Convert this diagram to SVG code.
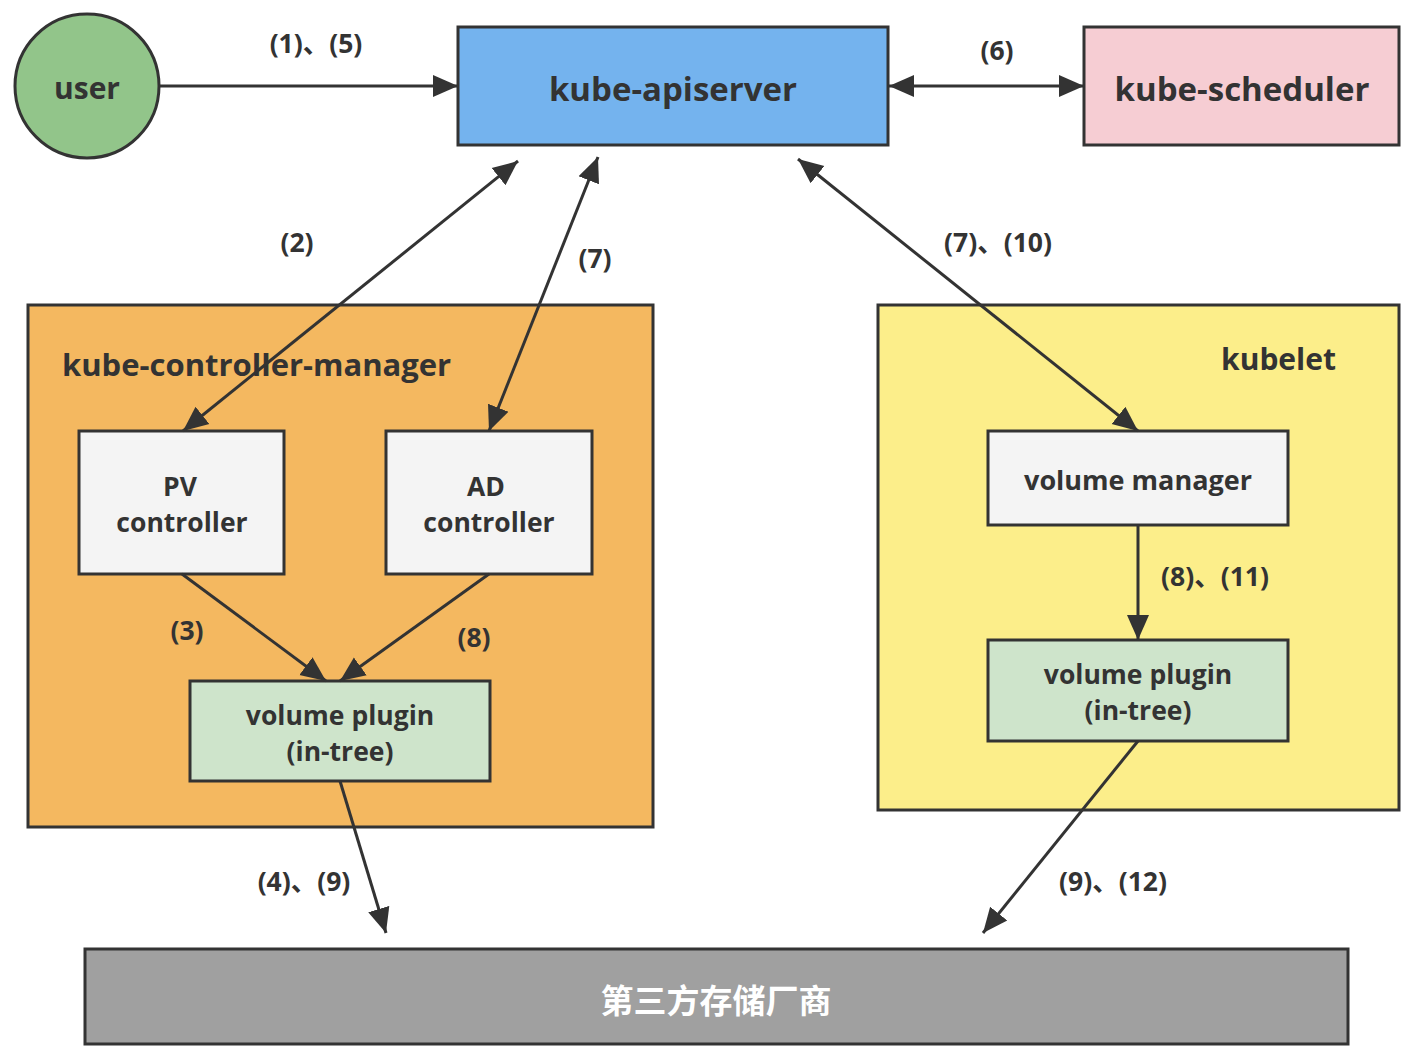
<svg xmlns="http://www.w3.org/2000/svg" width="1414" height="1062" viewBox="0 0 1414 1062">
<defs>
<marker id="ah" markerUnits="userSpaceOnUse" markerWidth="26" markerHeight="24" refX="25" refY="12" orient="auto-start-reverse" viewBox="0 0 26 24">
<path d="M0,1 L25,12 L0,23 Z" fill="#333"/>
</marker>
<style>
.box{stroke:#333;stroke-width:3}
.t{font-family:"Open Sans","Noto Sans CJK SC",sans-serif;font-weight:bold;fill:#333;text-anchor:middle}
.lbl{font-family:"Open Sans","Noto Sans CJK SC",sans-serif;font-weight:bold;fill:#333;font-size:26.5px;text-anchor:middle}
.c{stroke:#333;stroke-width:3;fill:none}
</style>
</defs>
<rect width="1414" height="1062" fill="#fff"/>
<g id="kube-controller-manager">
<rect class="box" x="28" y="305" width="625" height="522" fill="#f4b860"/>
<text class="t" x="62" y="376" font-size="31" style="text-anchor:start">kube-controller-manager</text>
</g>
<g id="kubelet">
<rect class="box" x="878" y="305" width="521" height="505" fill="#fcee8a"/>
<text class="t" x="1336" y="370" font-size="30" style="text-anchor:end">kubelet</text>
</g>
<g id="user">
<circle class="box" cx="87" cy="86" r="72" fill="#92c58a"/>
<text class="t" x="87" y="99" font-size="30">user</text>
</g>
<g id="kube-apiserver">
<rect class="box" x="458" y="27" width="430" height="118" fill="#74b3ee"/>
<text class="t" x="673" y="101" font-size="33">kube-apiserver</text>
</g>
<g id="kube-scheduler">
<rect class="box" x="1084" y="27" width="315" height="118" fill="#f6cdd3"/>
<text class="t" x="1242" y="101" font-size="33">kube-scheduler</text>
</g>
<g id="pv-controller">
<rect class="box" x="79" y="431" width="205" height="143" fill="#f4f4f4"/>
<text class="t" font-size="26.5"><tspan x="180" y="496">PV</tspan><tspan x="182" y="532">controller</tspan></text>
</g>
<g id="ad-controller">
<rect class="box" x="386" y="431" width="206" height="143" fill="#f4f4f4"/>
<text class="t" font-size="26.5"><tspan x="486" y="496">AD</tspan><tspan x="489" y="532">controller</tspan></text>
</g>
<g id="volume-plugin-left">
<rect class="box" x="190" y="681" width="300" height="100" fill="#cee4cb"/>
<text class="t" font-size="26.5"><tspan x="340" y="725">volume plugin</tspan><tspan x="340" y="761">(in-tree)</tspan></text>
</g>
<g id="volume-manager">
<rect class="box" x="988" y="431" width="300" height="94" fill="#f4f4f4"/>
<text class="t" x="1138" y="490" font-size="27">volume manager</text>
</g>
<g id="volume-plugin-right">
<rect class="box" x="988" y="640" width="300" height="101" fill="#cee4cb"/>
<text class="t" font-size="26.5"><tspan x="1138" y="684">volume plugin</tspan><tspan x="1138" y="720">(in-tree)</tspan></text>
</g>
<g id="storage-vendor">
<rect class="box" x="85" y="949" width="1263" height="95" fill="#a0a0a0"/>
<text class="t" x="716" y="1013" font-size="33" style="fill:#fff">第三方存储厂商</text>
</g>
<g id="connectors">
<line class="c" x1="159" y1="86" x2="458" y2="86" marker-end="url(#ah)"/>
<line class="c" x1="889" y1="86" x2="1084" y2="86" marker-start="url(#ah)" marker-end="url(#ah)"/>
<line class="c" x1="518" y1="161" x2="183" y2="431" marker-start="url(#ah)" marker-end="url(#ah)"/>
<line class="c" x1="598" y1="157" x2="489" y2="431" marker-start="url(#ah)" marker-end="url(#ah)"/>
<line class="c" x1="798" y1="159" x2="1138" y2="431" marker-start="url(#ah)" marker-end="url(#ah)"/>
<line class="c" x1="182" y1="574" x2="326" y2="681" marker-end="url(#ah)"/>
<line class="c" x1="489" y1="574" x2="340" y2="681" marker-end="url(#ah)"/>
<line class="c" x1="1138" y1="525" x2="1138" y2="640" marker-end="url(#ah)"/>
<line class="c" x1="340" y1="781" x2="386" y2="933" marker-end="url(#ah)"/>
<line class="c" x1="1138" y1="741" x2="983" y2="933" marker-end="url(#ah)"/>
<text class="lbl" x="316" y="53">(1)、(5)</text>
<text class="lbl" x="997" y="60">(6)</text>
<text class="lbl" x="297" y="252">(2)</text>
<text class="lbl" x="595" y="268">(7)</text>
<text class="lbl" x="998" y="252">(7)、(10)</text>
<text class="lbl" x="187" y="640">(3)</text>
<text class="lbl" x="474" y="647">(8)</text>
<text class="lbl" x="1215" y="586">(8)、(11)</text>
<text class="lbl" x="304" y="891">(4)、(9)</text>
<text class="lbl" x="1113" y="891">(9)、(12)</text>
</g>
</svg>
